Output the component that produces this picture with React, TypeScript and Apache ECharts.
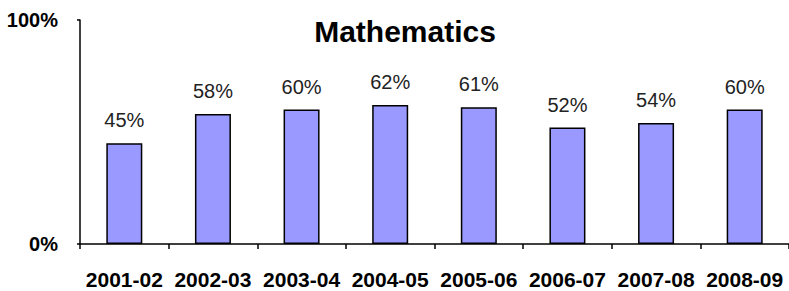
import React, { useEffect, useRef } from "react";
import * as echarts from "echarts";

const categories = ["2001-02", "2002-03", "2003-04", "2004-05", "2005-06", "2006-07", "2007-08", "2008-09"];
const values = [45, 58, 60, 62, 61, 52, 54, 60];
const titleText = "Mathematics";

export default function App() {
  const ref = useRef<HTMLDivElement>(null);
  useEffect(() => {
    if (!ref.current) return;
    const chart = echarts.init(ref.current, null, { renderer: "svg" });
    chart.setOption({
      animation: false,
      backgroundColor: "#ffffff",
      title: {
        text: titleText,
        left: 400,
        top: 11,
        textAlign: "center",
        textStyle: { fontFamily: "Liberation Sans", fontWeight: "bold", fontSize: 30, color: "#000" },
      },
      grid: { left: 80, right: -6, top: 20, bottom: 47, containLabel: false },
      xAxis: {
        type: "category",
        data: categories,
        axisLine: { lineStyle: { color: "#000", width: 1.5 } },
        axisTick: { show: true, length: 5, lineStyle: { color: "#000", width: 1.5 } },
        axisLabel: {
          margin: 25,
          fontFamily: "Liberation Sans",
          fontWeight: "bold",
          fontSize: 21,
          color: "#000",
          interval: 0,
        },
      },
      yAxis: {
        type: "value",
        min: 0,
        max: 100,
        interval: 100,
        axisLine: { show: true, lineStyle: { color: "#000", width: 1.5 } },
        axisTick: { show: true, length: 3, lineStyle: { color: "#000", width: 1.5 } },
        splitLine: { show: false },
        axisLabel: {
          margin: 22,
          formatter: "{value}%",
          fontFamily: "Liberation Sans",
          fontWeight: "bold",
          fontSize: 20,
          color: "#000",
        },
      },
      series: [
        {
          type: "bar",
          data: values,
          barWidth: 36,
          itemStyle: { color: "#9999ff", borderColor: "#000", borderWidth: 1.5 },
          label: {
            show: true,
            position: "top",
            distance: 13,
            formatter: "{c}%",
            fontFamily: "Liberation Sans",
            fontSize: 20,
            color: "#222",
          },
        },
      ],
    });
    return () => chart.dispose();
  }, []);
  return <div ref={ref} style={{ position: "fixed", left: 0, top: 0, width: 789, height: 291 }} />;
}
